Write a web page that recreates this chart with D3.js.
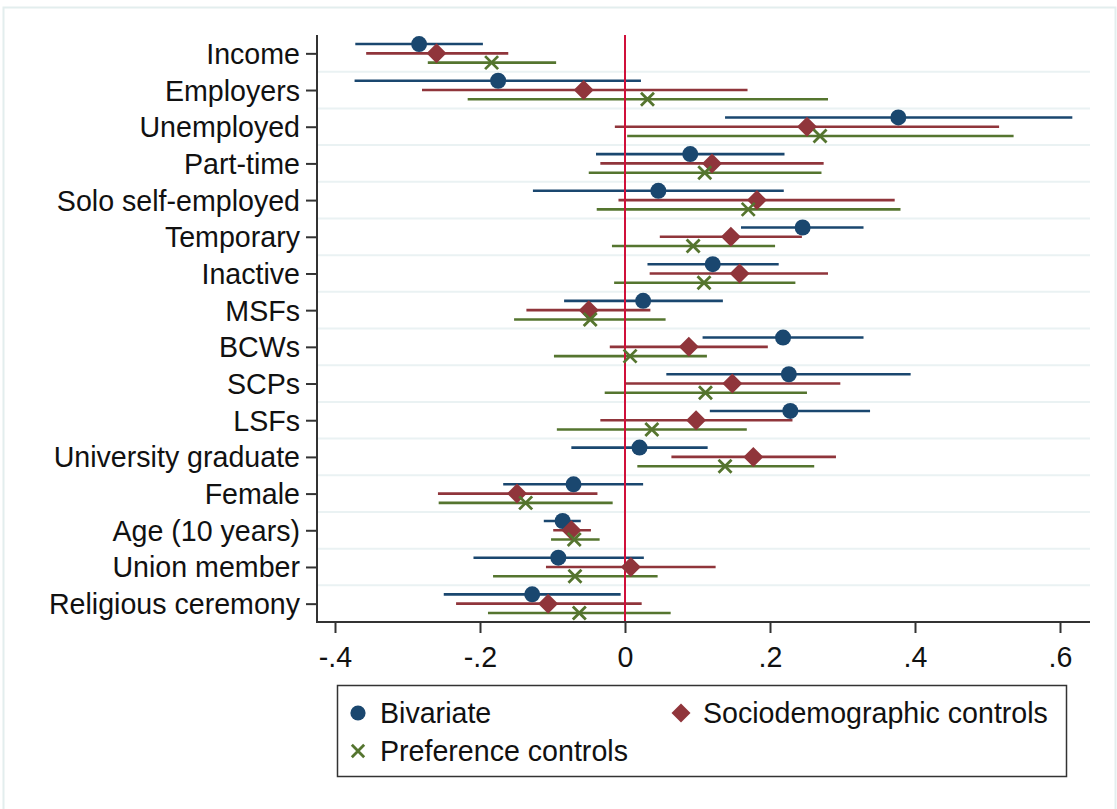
<!DOCTYPE html>
<html>
<head>
<meta charset="utf-8">
<script src="https://cdn.jsdelivr.net/npm/d3@7/dist/d3.min.js"></script>
<style>
  html, body { margin: 0; padding: 0; background: #fff; }
  svg { display: block; font-family: "Liberation Sans", Arial, sans-serif; }
</style>
</head>
<body>
<svg id="chart" width="1117" height="809"></svg>
<script>
// Coefficient estimates with confidence intervals, one row per variable
const categories = [
  "Income", "Employers", "Unemployed", "Part-time", "Solo self-employed",
  "Temporary", "Inactive", "MSFs", "BCWs", "SCPs", "LSFs",
  "University graduate", "Female", "Age (10 years)", "Union member",
  "Religious ceremony"
];

// Bivariate model
const bivCoef = [-0.284, -0.175, 0.377, 0.090, 0.046, 0.245, 0.121, 0.025, 0.218, 0.226, 0.228, 0.020, -0.071, -0.086, -0.092, -0.128];
const bivLo   = [-0.372, -0.373, 0.138, -0.040, -0.127, 0.160, 0.031, -0.084, 0.107, 0.057, 0.117, -0.074, -0.168, -0.112, -0.209, -0.250];
const bivHi   = [-0.196, 0.022, 0.617, 0.220, 0.219, 0.329, 0.212, 0.135, 0.329, 0.394, 0.338, 0.114, 0.025, -0.061, 0.026, -0.006];

// Model with sociodemographic controls
const socCoef = [-0.260, -0.057, 0.251, 0.120, 0.182, 0.146, 0.158, -0.050, 0.088, 0.148, 0.098, 0.177, -0.149, -0.074, 0.008, -0.106];
const socLo   = [-0.357, -0.280, -0.014, -0.034, -0.009, 0.048, 0.034, -0.136, -0.021, 0.001, -0.034, 0.064, -0.258, -0.099, -0.109, -0.233];
const socHi   = [-0.161, 0.169, 0.516, 0.274, 0.372, 0.244, 0.280, 0.035, 0.197, 0.297, 0.231, 0.291, -0.038, -0.047, 0.125, 0.023];

// Model with preference controls
const prefCoef = [-0.184, 0.031, 0.269, 0.110, 0.170, 0.094, 0.109, -0.048, 0.007, 0.111, 0.037, 0.138, -0.137, -0.070, -0.069, -0.063];
const prefLo   = [-0.272, -0.217, 0.003, -0.050, -0.039, -0.018, -0.015, -0.153, -0.098, -0.028, -0.094, 0.017, -0.257, -0.102, -0.182, -0.189];
const prefHi   = [-0.095, 0.280, 0.536, 0.271, 0.380, 0.207, 0.235, 0.056, 0.113, 0.251, 0.168, 0.261, -0.017, -0.035, 0.045, 0.063];

const xTicks = [-0.4, -0.2, 0, 0.2, 0.4, 0.6];
const xTickLabels = ["-.4", "-.2", "0", ".2", ".4", ".6"];

const seriesNames = ["Bivariate", "Sociodemographic controls", "Preference controls"];

const series = [
  { name: seriesNames[0], coef: bivCoef, lo: bivLo, hi: bivHi, color: "#1a476f", shape: "circle", shift: -1 },
  { name: seriesNames[1], coef: socCoef, lo: socLo, hi: socHi, color: "#90353b", shape: "diamond", shift: 0 },
  { name: seriesNames[2], coef: prefCoef, lo: prefLo, hi: prefHi, color: "#55752f", shape: "cross", shift: 1 }
];

const fontSize = "28.6px";
const svg = d3.select("#chart");

// Outer graph-region frame
svg.append("rect")
  .attr("x", 3.5).attr("y", 7.5)
  .attr("width", 1112).attr("height", 812)
  .attr("fill", "none")
  .attr("stroke", "#e3eeee")
  .attr("stroke-width", 2);

// Plot region
const plotLeft = 317, plotRight = 1090, plotTop = 35, plotBottom = 622;

const x = d3.scaleLinear().domain([-0.4, 0.6]).range([335, 1060]);
const y = d3.scalePoint().domain(categories).range([plotTop, plotBottom]).padding(0.5);
const step = y.step();
const offset = step * 0.253;

// Horizontal separators between rows
svg.append("g")
  .selectAll("line")
  .data(categories.slice(0, -1))
  .join("line")
  .attr("x1", plotLeft + 1).attr("x2", plotRight)
  .attr("y1", d => y(d) + step / 2)
  .attr("y2", d => y(d) + step / 2)
  .attr("stroke", "#eaf2f3")
  .attr("stroke-width", 2);

// Confidence interval segments
series.forEach(s => {
  svg.append("g")
    .selectAll("line")
    .data(categories)
    .join("line")
    .attr("x1", (d, i) => x(s.lo[i]))
    .attr("x2", (d, i) => x(s.hi[i]))
    .attr("y1", d => y(d) + s.shift * offset)
    .attr("y2", d => y(d) + s.shift * offset)
    .attr("stroke", s.color)
    .attr("stroke-width", 2.6);
});

// Reference line at zero
svg.append("line")
  .attr("x1", x(0)).attr("x2", x(0))
  .attr("y1", plotTop).attr("y2", plotBottom)
  .attr("stroke", "#d0103a")
  .attr("stroke-width", 2);

// Marker drawing
function drawMarker(g, shape, color, cx, cy, scale) {
  const k = scale || 1;
  if (shape === "circle") {
    g.append("circle").attr("cx", cx).attr("cy", cy).attr("r", 8 * k).attr("fill", color);
  } else if (shape === "diamond") {
    const r = 10 * k;
    g.append("path")
      .attr("d", `M${cx},${cy - r}L${cx + r},${cy}L${cx},${cy + r}L${cx - r},${cy}Z`)
      .attr("fill", color);
  } else {
    const r = 6.5 * k;
    g.append("path")
      .attr("d", `M${cx - r},${cy - r}L${cx + r},${cy + r}M${cx - r},${cy + r}L${cx + r},${cy - r}`)
      .attr("stroke", color)
      .attr("stroke-width", 2.8)
      .attr("fill", "none");
  }
}

series.forEach(s => {
  const g = svg.append("g");
  categories.forEach((c, i) => {
    drawMarker(g, s.shape, s.color, x(s.coef[i]), y(c) + s.shift * offset);
  });
});

// Axes
const axisColor = "#333";

const yAxis = svg.append("g")
  .attr("transform", `translate(${plotLeft},0)`)
  .call(d3.axisLeft(y).tickSize(11).tickPadding(6));
yAxis.select(".domain").remove();
yAxis.selectAll(".tick line").attr("stroke", axisColor).attr("stroke-width", 2);
yAxis.selectAll(".tick text")
  .attr("fill", "#111")
  .style("font-size", fontSize)
  .style("font-family", "'Liberation Sans', Arial, sans-serif")
  .attr("dy", "0.35em");
svg.append("line")
  .attr("x1", plotLeft).attr("x2", plotLeft)
  .attr("y1", plotTop).attr("y2", plotBottom)
  .attr("stroke", axisColor).attr("stroke-width", 2);

const xAxis = svg.append("g")
  .attr("transform", `translate(0,${plotBottom})`)
  .call(d3.axisBottom(x).tickValues(xTicks)
    .tickFormat((d, i) => xTickLabels[i])
    .tickSize(11).tickPadding(14));
xAxis.select(".domain").remove();
xAxis.selectAll(".tick line").attr("stroke", axisColor).attr("stroke-width", 2);
xAxis.selectAll(".tick text")
  .attr("fill", "#111")
  .style("font-size", fontSize)
  .style("font-family", "'Liberation Sans', Arial, sans-serif");
svg.append("line")
  .attr("x1", plotLeft - 1).attr("x2", plotRight)
  .attr("y1", plotBottom).attr("y2", plotBottom)
  .attr("stroke", axisColor).attr("stroke-width", 2);

// Legend
const legend = svg.append("g");
legend.append("rect")
  .attr("x", 337.5).attr("y", 685.5)
  .attr("width", 729).attr("height", 91)
  .attr("fill", "#fff")
  .attr("stroke", axisColor)
  .attr("stroke-width", 1.5);

const legendPos = [
  { mx: 358, my: 713 },
  { mx: 681, my: 713 },
  { mx: 358, my: 751 }
];
series.forEach((s, i) => {
  const p = legendPos[i];
  drawMarker(legend, s.shape, s.color, p.mx, p.my, 0.95);
  legend.append("text")
    .attr("x", p.mx + 22).attr("y", p.my)
    .attr("dy", "0.35em")
    .attr("fill", "#111")
    .style("font-size", fontSize)
    .text(s.name);
});
</script>
</body>
</html>
